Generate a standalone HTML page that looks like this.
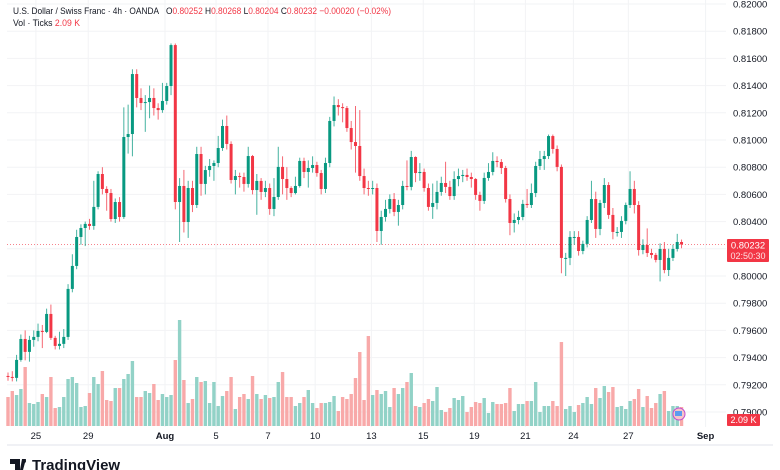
<!DOCTYPE html>
<html><head><meta charset="utf-8">
<style>
html,body{margin:0;padding:0;background:#fff;}
body{width:780px;height:470px;overflow:hidden;font-family:"Liberation Sans",sans-serif;}
svg{display:block}
</style></head>
<body>
<svg id="chart" width="780" height="470" viewBox="0 0 780 470" xmlns="http://www.w3.org/2000/svg">
  <rect x="0" y="0" width="780" height="470" fill="#ffffff"/>
  <g id="grid"></g>
  <g id="vols"></g>
  <g id="candles"></g>
  <g id="axisY"></g>
  <g id="axisX"></g>
  <line x1="7" y1="445" x2="773" y2="445" stroke="#e0e3eb" stroke-width="1"/>
  <g font-size="9.5">
    <text x="13" y="14" fill="#131722" textLength="146" lengthAdjust="spacingAndGlyphs">U.S. Dollar / Swiss Franc · 4h · OANDA</text>
    <text x="166" y="14" fill="#131722" textLength="225" lengthAdjust="spacingAndGlyphs">O<tspan fill="#f23645">0.80252</tspan>  H<tspan fill="#f23645">0.80268</tspan>  L<tspan fill="#f23645">0.80204</tspan>  C<tspan fill="#f23645">0.80232</tspan>  <tspan fill="#f23645">−0.00020 (−0.02%)</tspan></text>
    <text x="13" y="26" fill="#131722" textLength="67" lengthAdjust="spacingAndGlyphs">Vol · Ticks  <tspan fill="#f23645">2.09 K</tspan></text>
  </g>
  <g>
    <circle cx="679" cy="414" r="6" fill="#f7c5c8" stroke="#c04bd0" stroke-width="1"/>
    <rect x="675" y="411" width="7" height="5" fill="#5b9bf0"/>
  </g>
  <g>
    <rect x="727" y="239" width="42" height="23" fill="#f23645" rx="1"/>
    <text x="748" y="248.5" fill="#fff" font-size="9.5" text-anchor="middle">0.80232</text>
    <text x="748" y="259" fill="#fde0e2" font-size="9" text-anchor="middle">02:50:30</text>
  </g>
  <g>
    <rect x="727" y="414" width="33" height="12" fill="#f23645" rx="1"/>
    <text x="743.5" y="423" fill="#fff" font-size="9" text-anchor="middle">2.09 K</text>
  </g>
  <g>
    <path d="M10 459h10v11h-5v-6h-5z M22 459h4l-3 11h-3z" fill="#131722"/>
    <circle cx="24" cy="461" r="2" fill="#131722"/>
    <text x="32" y="470" font-size="15" font-weight="bold" fill="#131722">TradingView</text>
  </g>
</svg>
<script>
const closes=[0.79258,0.79251,0.79383,0.79537,0.79442,0.79530,0.79552,0.79596,0.79589,0.79721,0.79545,0.79486,0.79501,0.79552,0.79905,0.80074,0.80287,0.80353,0.80383,0.80368,0.80508,0.80750,0.80640,0.80610,0.80419,0.80544,0.80434,0.81022,0.81044,0.81485,0.81309,0.81272,0.81279,0.81309,0.81235,0.81220,0.81287,0.81397,0.81698,0.80544,0.80662,0.80397,0.80647,0.80522,0.80897,0.80677,0.80779,0.80809,0.80831,0.80941,0.81103,0.80971,0.80706,0.80735,0.80728,0.80677,0.80882,0.80632,0.80699,0.80618,0.80647,0.80493,0.80581,0.80802,0.80713,0.80647,0.80610,0.80662,0.80846,0.80765,0.80794,0.80816,0.80757,0.80640,0.80831,0.81140,0.81257,0.81242,0.81235,0.81088,0.80985,0.80956,0.80735,0.80647,0.80640,0.80647,0.80331,0.80434,0.80493,0.80566,0.80471,0.80522,0.80662,0.80655,0.80875,0.80757,0.80765,0.80647,0.80508,0.80537,0.80618,0.80684,0.80655,0.80588,0.80713,0.80735,0.80743,0.80728,0.80713,0.80596,0.80552,0.80721,0.80765,0.80846,0.80838,0.80794,0.80566,0.80390,0.80412,0.80434,0.80530,0.80522,0.80610,0.80809,0.80860,0.80882,0.81029,0.80934,0.80802,0.80133,0.80133,0.80287,0.80287,0.80184,0.80236,0.80412,0.80566,0.80346,0.80537,0.80669,0.80449,0.80324,0.80324,0.80405,0.80522,0.80640,0.80522,0.80191,0.80228,0.80169,0.80155,0.80118,0.80199,0.80044,0.80133,0.80199,0.80250,0.80232];
const highs=[0.79290,0.79300,0.79420,0.79570,0.79600,0.79560,0.79600,0.79650,0.79640,0.79760,0.79790,0.79560,0.79590,0.79610,0.79940,0.80160,0.80340,0.80380,0.80400,0.80420,0.80700,0.80770,0.80800,0.80660,0.80640,0.80570,0.80580,0.81240,0.81260,0.81520,0.81520,0.81380,0.81330,0.81400,0.81380,0.81270,0.81420,0.81420,0.81710,0.81710,0.80720,0.80780,0.80700,0.80700,0.80950,0.80950,0.80810,0.80860,0.80850,0.81030,0.81150,0.81180,0.80990,0.80780,0.80760,0.80760,0.80950,0.80890,0.80750,0.80720,0.80700,0.80680,0.80720,0.80950,0.80880,0.80800,0.80660,0.80730,0.80870,0.80870,0.80850,0.80880,0.80840,0.80780,0.80870,0.81170,0.81320,0.81300,0.81270,0.81250,0.81140,0.81250,0.81220,0.80790,0.80700,0.80700,0.80680,0.80480,0.80560,0.80600,0.80610,0.80560,0.80700,0.80850,0.80920,0.80880,0.80830,0.80790,0.80680,0.80680,0.80700,0.80730,0.80840,0.80700,0.80770,0.80790,0.80780,0.80790,0.80760,0.80720,0.80620,0.80760,0.80830,0.80910,0.80880,0.80860,0.80810,0.80600,0.80460,0.80480,0.80560,0.80640,0.80680,0.80840,0.80920,0.80920,0.81040,0.81040,0.80960,0.80820,0.80170,0.80330,0.80330,0.80330,0.80260,0.80440,0.80700,0.80620,0.80560,0.80720,0.80690,0.80500,0.80360,0.80440,0.80540,0.80770,0.80700,0.80550,0.80270,0.80350,0.80200,0.80170,0.80240,0.80250,0.80200,0.80230,0.80310,0.80268];
const lows=[0.79230,0.79225,0.79225,0.79370,0.79380,0.79370,0.79480,0.79520,0.79470,0.79580,0.79530,0.79460,0.79460,0.79470,0.79530,0.79880,0.80050,0.80230,0.80220,0.80340,0.80340,0.80490,0.80600,0.80480,0.80400,0.80390,0.80400,0.80420,0.80900,0.80880,0.81240,0.81220,0.81060,0.81160,0.81180,0.81150,0.81200,0.81260,0.81330,0.80490,0.80250,0.80320,0.80280,0.80470,0.80500,0.80590,0.80600,0.80730,0.80700,0.80800,0.80920,0.80930,0.80680,0.80600,0.80650,0.80620,0.80650,0.80600,0.80450,0.80560,0.80580,0.80450,0.80440,0.80560,0.80600,0.80560,0.80580,0.80600,0.80650,0.80720,0.80650,0.80760,0.80730,0.80600,0.80610,0.80800,0.81100,0.81180,0.81130,0.81060,0.80930,0.80760,0.80700,0.80600,0.80590,0.80600,0.80250,0.80230,0.80400,0.80460,0.80440,0.80370,0.80490,0.80630,0.80630,0.80690,0.80700,0.80620,0.80480,0.80420,0.80490,0.80590,0.80610,0.80560,0.80560,0.80660,0.80690,0.80700,0.80650,0.80560,0.80480,0.80530,0.80700,0.80740,0.80800,0.80750,0.80540,0.80300,0.80320,0.80380,0.80410,0.80500,0.80500,0.80580,0.80780,0.80780,0.80860,0.80900,0.80770,0.80020,0.80000,0.80080,0.80230,0.80150,0.80160,0.80210,0.80390,0.80280,0.80300,0.80500,0.80420,0.80270,0.80290,0.80280,0.80380,0.80500,0.80460,0.80150,0.80160,0.80140,0.80130,0.80100,0.79960,0.80020,0.80000,0.80110,0.80180,0.80204];
const firstOpen=0.79265;
const volumes=[3.19,3.85,3.41,4.07,6.49,2.53,2.42,2.64,3.52,3.19,5.39,1.98,2.09,3.19,5.17,5.39,4.73,2.09,2.2,3.63,5.39,4.62,6.05,2.86,2.75,4.18,4.18,5.17,5.72,7.15,3.19,3.19,3.85,3.63,4.62,2.86,3.52,3.19,3.41,7.26,11.66,5.06,2.53,2.97,5.39,4.84,4.95,2.53,4.84,2.2,3.3,3.85,5.39,1.87,3.19,3.52,2.97,5.5,3.52,2.97,
3.41,3.08,3.19,4.84,5.94,3.19,3.19,2.2,2.53,3.19,3.96,2.53,1.98,2.53,2.53,2.64,3.3,1.65,3.19,2.97,3.52,5.28,8.14,2.86,9.9,3.41,3.96,3.52,3.85,2.09,4.18,3.52,4.18,4.84,5.83,2.2,2.09,2.53,2.97,2.75,4.29,1.76,1.54,1.98,3.08,2.86,3.3,1.54,2.09,
2.64,2.53,3.08,1.43,2.64,2.42,2.42,2.53,4.18,1.65,2.42,2.42,2.75,2.75,4.84,1.54,2.2,2.2,2.75,2.2,9.24,1.87,2.2,1.54,2.31,2.53,3.19,2.42,4.18,3.08,4.4,3.74,4.29,2.09,2.2,1.87,2.75,2.97,4.07,2.09,3.3,1.98,2.53,3.52,3.85,1.65,2.2,2.2,2.09];
const priceTicks=[0.820,0.818,0.816,0.814,0.812,0.810,0.808,0.806,0.804,0.802,0.800,0.798,0.796,0.794,0.792,0.790];
const dateLabels=["25","29","Aug","5","7","10","13","15","19","21","24","27","Sep"];
const dateIndex=[6.5,18.7,36.6,48.5,60.6,71.6,84.7,96.8,108.7,120.6,131.8,144.6,162.6];
const boldLabels=["Aug","Sep"];
const lastPrice=0.80232;

const NS="http://www.w3.org/2000/svg";
function mk(tag,attrs,parent){const e=document.createElementNS(NS,tag);for(const k in attrs)e.setAttribute(k,attrs[k]);parent.appendChild(e);return e;}
const X0=8, STEP=4.29;
function xOf(i){return X0+i*STEP;}
function yOf(p){return 4+(0.82-p)*13600;}
const VBASE=426, VSCALE=9.09;
function vh(v){return v*VSCALE;}

const grid=document.getElementById('grid');
const axisY=document.getElementById('axisY');
const axisX=document.getElementById('axisX');
priceTicks.forEach(p=>{
  const y=yOf(p);
  const gl=mk('line',{x1:7,x2:726,y1:y,y2:y,stroke:'#f2f3f5','stroke-width':1},grid);
  
  
  const t=mk('text',{x:733,y:y+3.5,'font-size':9.5,fill:'#131722'},axisY);
  t.textContent=p.toFixed(5);
  
  
});
dateLabels.forEach((lab,k)=>{
  const x=xOf(dateIndex[k]);
  const gl=mk('line',{x1:x,x2:x,y1:0,y2:427,stroke:'#f2f3f5','stroke-width':1},grid);
  
  
  const t=mk('text',{x:x,y:439,'font-size':9.5,fill:'#131722','text-anchor':'middle','font-weight':boldLabels.includes(lab)?'bold':'normal'},axisX);
  t.textContent=lab;
  
  
});

const vols=document.getElementById('vols');
const cg=document.getElementById('candles');
closes.forEach((c,i)=>{
  const o=i===0?firstOpen:closes[i-1];
  const up=c>=o;
  const x=xOf(i);
  const v=mk('rect',{x:x-1.7,y:VBASE-vh(volumes[i]),width:3.4,height:vh(volumes[i]),fill:up?'#92d2c7':'#f8a9a9'},vols);
  
  
  const col=up?'#089981':'#f23645';
  const w=mk('line',{x1:x,x2:x,y1:yOf(highs[i]),y2:yOf(lows[i]),stroke:col,'stroke-width':1,opacity:0.75},cg);
  
  
  const top=yOf(Math.max(o,c)), bot=yOf(Math.min(o,c));
  const b=mk('rect',{x:x-1.5,y:top,width:3,height:Math.max(1,bot-top),fill:col},cg);
  
  
});
const ly=yOf(lastPrice);
const pl=mk('line',{x1:7,x2:726,y1:ly,y2:ly,stroke:'#f23645','stroke-width':0.8,'stroke-dasharray':'1 2',opacity:0.7},grid);


</script>
</body></html>
